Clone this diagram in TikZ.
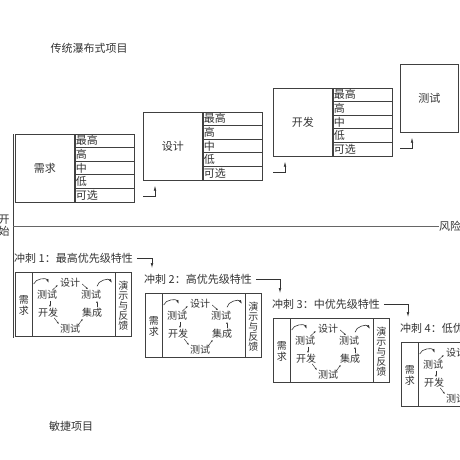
\documentclass[tikz,border=0pt]{standalone}
\usepackage{fontspec}
\setmainfont{Noto Sans CJK SC}
\usetikzlibrary{arrows.meta,calc}

\begin{document}
\begin{tikzpicture}[x=1pt,y=-1pt,
  line/.style={draw=black!75,line width=0.7},
  stage/.style={line,minimum height=68,anchor=north west,inner sep=0pt,font=\fontsize{11}{12}\selectfont,text=black!80},
  lbl/.style={inner sep=0pt,font=\fontsize{11}{12}\selectfont,text=black!80},
  cyc/.style={lbl,font=\fontsize{10}{11}\selectfont},
  vlbl/.style={lbl,align=center,font=\fontsize{10}{10}\selectfont},
  tip/.style={-{Latex[length=5pt,width=2.6pt]},line width=0.6,draw=black!80},
  carc/.style={-{Latex[length=4pt,width=2.4pt]},line width=0.6,draw=black!80},
  tick/.style={-{Latex[length=2.2pt,width=1.8pt]},line width=0.45,draw=black!80}]
%set diagram size 460 x 460
\useasboundingbox (0,0) rectangle (460,460);
\clip (0,0) rectangle (460,460);

% Titles
\node[lbl] (wf) at (89,48) {传统瀑布式项目};
\node[lbl] (ag) at (71,426) {敏捷项目};

% Axes
\coordinate (a0) at (13,134);
\coordinate (a1) at (13,338);
\coordinate (ax) at (13,226);
\node[lbl,anchor=west] (risk) at (439,226) {风险};
\node[vlbl,font=\fontsize{11}{12}\selectfont] (start) at (4,226) {开\\始};
\draw[line] (a0) -- (a1);
\draw[line,draw=black!60] (ax) -- (risk.west);

% Waterfall stages
\foreach \nm/\lab/\X/\Y in {req/需求/15/134, des/设计/143/112, dev/开发/273/88}{
  \node[stage,minimum width=59] (\nm) at (\X,\Y) {\lab};
  \node[stage,minimum width=59] (\nm-p) at (\nm.north east) {};
  \foreach \r [count=\i] in {最高,高,中,低,可选}
    \node[lbl,anchor=west] (\nm-r\i) at ($(\nm-p.north west)+(1,{(\i-0.5)*13.6})$) {\r};
  \foreach \i in {1,...,4}
    \draw[line] ($(\nm-p.north west)+(0,{\i*13.6})$) -- ($(\nm-p.north east)+(0,{\i*13.6})$);
}
\node[stage,minimum width=58] (test) at (400,64) {测试};

% Hand-over arrows
\foreach \nm in {des,dev,test}
  \draw[tip] ($(\nm.south west)+(0,16)$) -| ($(\nm.south west)+(12,5)$);

% Sprints
\foreach \k/\X/\Y/\ttl in {1/15/272/最高优先级特性, 2/145/293/高优先级特性, 3/273/318/中优先级特性, 4/401/342/低优先级特性}{
  \node[lbl,anchor=west] (t\k) at ({\X-1},{\Y-14}) {冲刺 \k：\ttl};
  \node[line,minimum width=116,minimum height=64,anchor=north west,inner sep=0pt] (s\k) at (\X,\Y) {};
  \node[line,minimum width=17,minimum height=64,anchor=north west,inner sep=0pt] (q\k) at (s\k.north west) {};
  \node[line,minimum width=16,minimum height=64,anchor=north east,inner sep=0pt] (f\k) at (s\k.north east) {};
  \node[vlbl,font=\fontsize{10}{11}\selectfont] (qt\k) at ($(q\k)+(0,1)$) {需\\求};
  \node[vlbl] (ft\k) at ($(f\k)+(0,1)$) {演\\示\\与\\反\\馈};
  % cycle
  \node[cyc] (d\k) at ({\X+55},{\Y+11}) {设计};
  \node[cyc] (la\k) at ({\X+32},{\Y+23}) {测试};
  \node[cyc] (ra\k) at ({\X+76},{\Y+23}) {测试};
  \node[cyc] (kf\k) at ({\X+33},{\Y+41}) {开发};
  \node[cyc] (jc\k) at ({\X+77},{\Y+41}) {集成};
  \node[cyc] (lb\k) at ({\X+55},{\Y+57}) {测试};
  \draw[carc] ($(q\k.north east)+(1,12)$) to[bend left=70] ($(d\k.west)+(-11,0)$);
  \draw[carc] ($(ra\k.north)+(6,-4)$) to[bend left=70] ($(f\k.north west)+(-3,11)$);
  \draw[tick] ($(la\k.north east)+(-5,0)$) -- ($(d\k.west)+(-2,2)$);
  \draw[tick] ($(d\k.east)+(2,1)$) -- ($(ra\k.north)+(-3,-1)$);
  \draw[tick] ($(la\k.south)+(3,1)$) -- ($(kf\k.north)+(2,-1)$);
  \draw[tick] ($(kf\k.south east)+(-4,0)$) -- ($(lb\k.west)+(-1,-5)$);
  \draw[tick] ($(lb\k.east)+(-2,-4)$) -- ($(jc\k.south west)+(1,1)$);
  \draw[tick] ($(jc\k.north)+(5,-1)$) -- ($(ra\k.south)+(6,1)$);
}

% Sprint hand-over arrows
\foreach \a/\b in {1/2,2/3,3/4}
  \draw[tip] ($(t\a.east)+(4,0)$) -| ($(t\b.west)+(8,-11)$);
\end{tikzpicture}
\end{document}
